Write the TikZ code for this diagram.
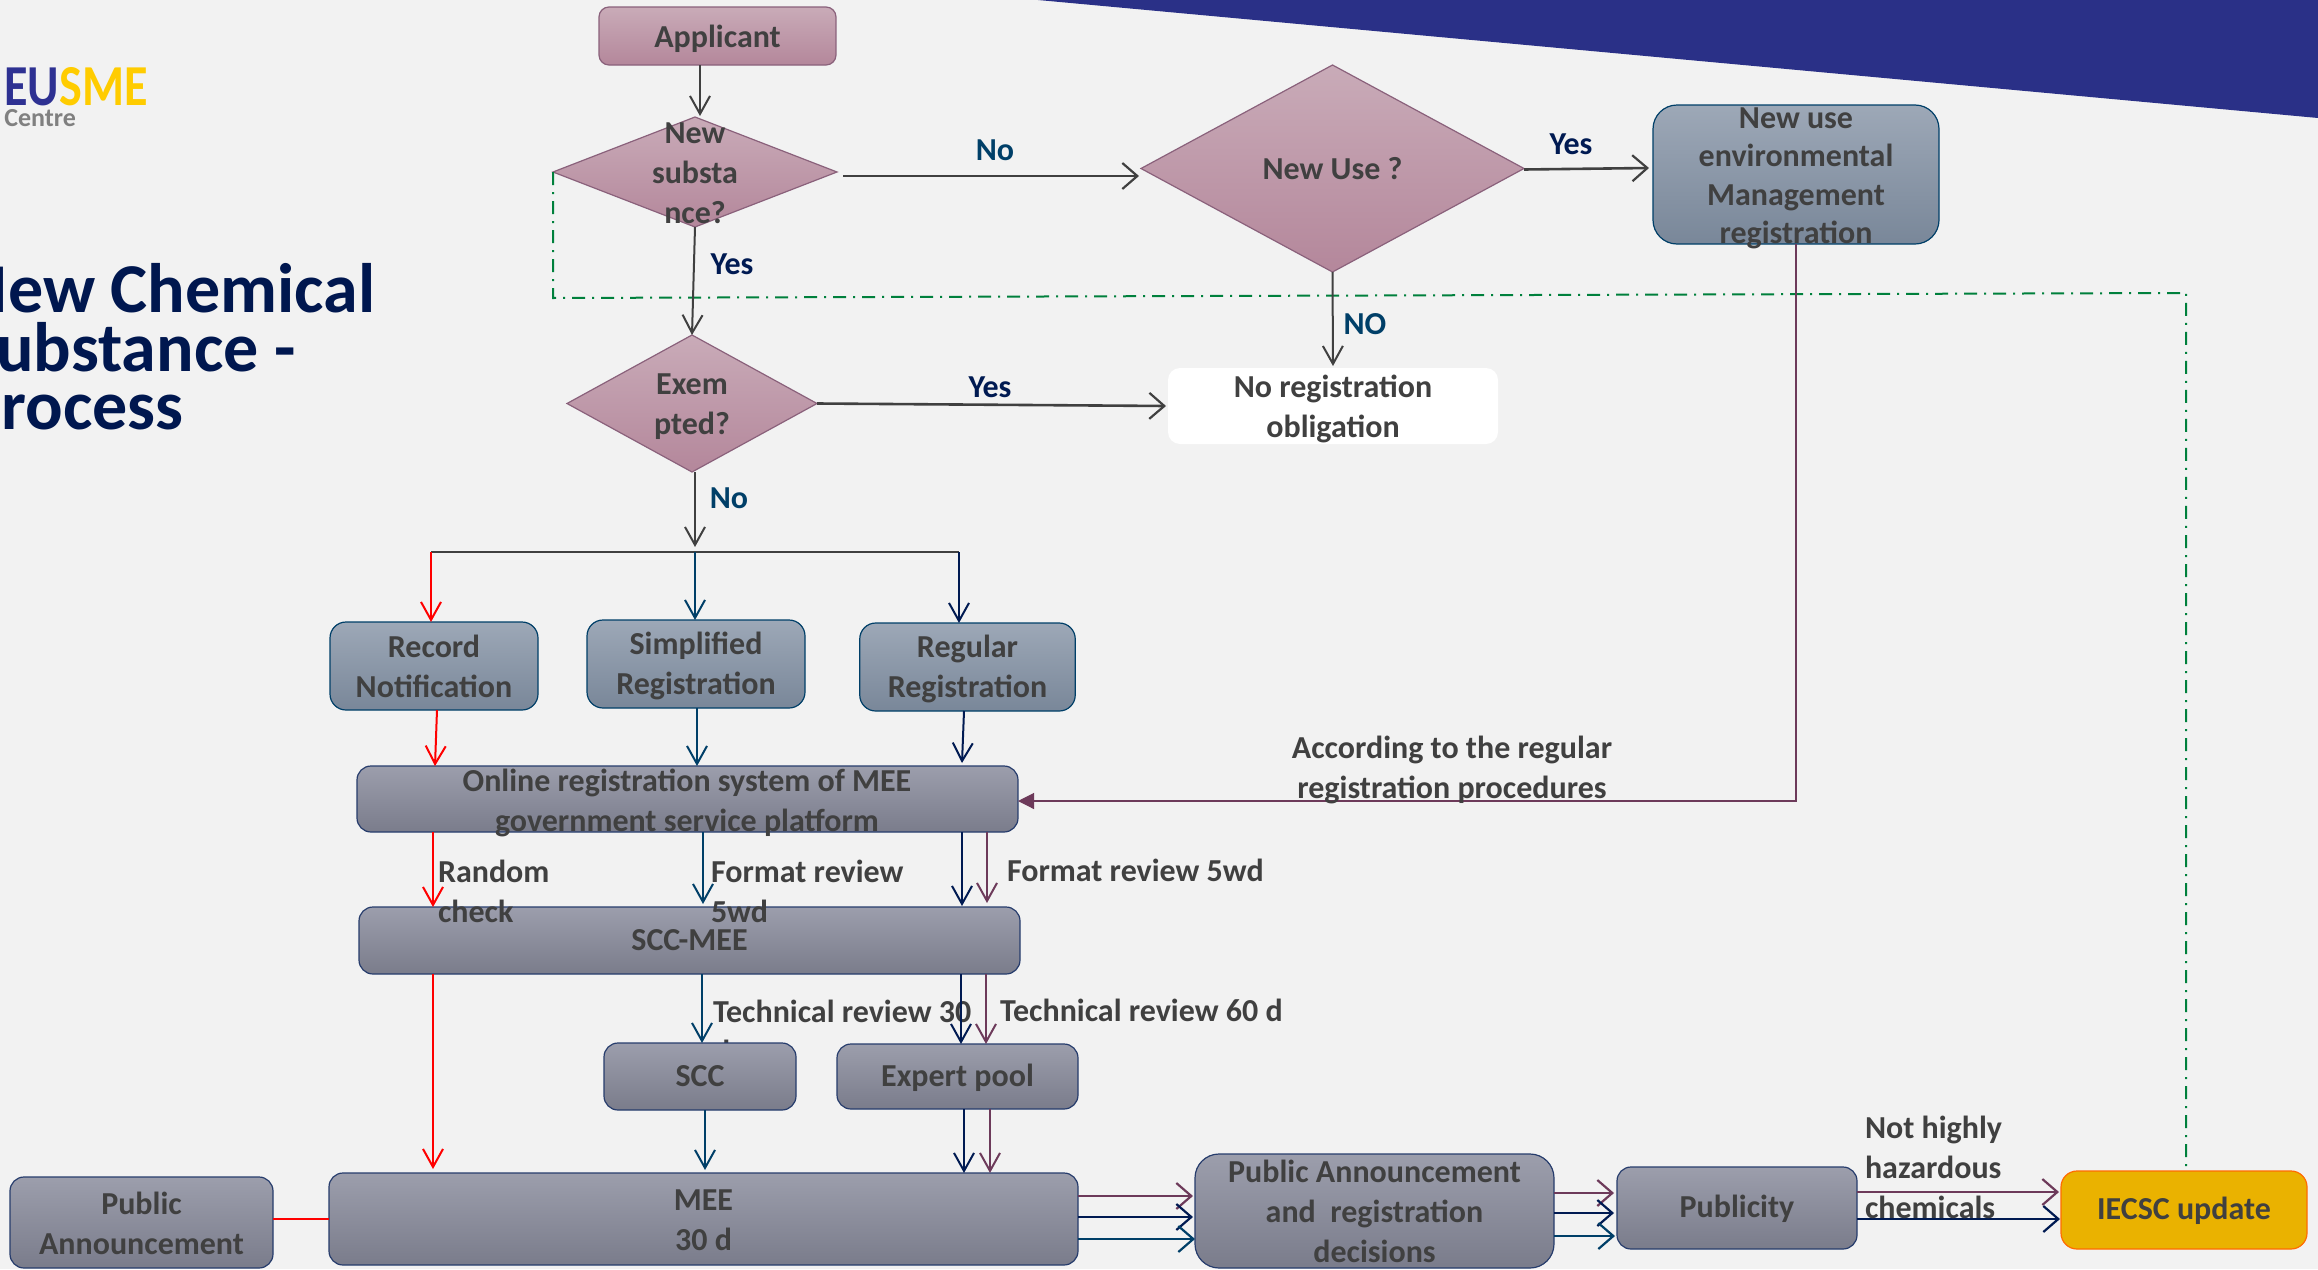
\documentclass[tikz,border=0pt]{standalone}
\usepackage{fontspec}
\setmainfont{Carlito}
\usetikzlibrary{arrows.meta,shapes.geometric,calc}
\definecolor{pagebg}{HTML}{F2F2F2}
\definecolor{banner}{HTML}{2A3087}
\definecolor{txt}{HTML}{404040}
\definecolor{navy}{HTML}{001A52}
\definecolor{teal}{HTML}{003F68}
\definecolor{plum}{HTML}{6D3A5A}
\definecolor{dark}{HTML}{404040}
\definecolor{gline}{HTML}{00803C}
\definecolor{HTMLdiaT}{HTML}{C9ABB8}
\definecolor{HTMLdiaB}{HTML}{B4879B}
\definecolor{HTMLblT}{HTML}{9DA8B7}
\definecolor{HTMLblB}{HTML}{798799}
\definecolor{HTMLgrT}{HTML}{9C9EAC}
\definecolor{HTMLgrB}{HTML}{7A7C8B}
\definecolor{HTMLtitle}{HTML}{00174F}
\definecolor{HTMLiecsc}{HTML}{EAB200}
\definecolor{logoblue}{HTML}{2E3192}
\definecolor{logoyel}{HTML}{FFCC00}
\definecolor{logogray}{HTML}{808080}
\tikzset{
  wh/.style 2 args={minimum width=#1*0.5pt,minimum height=#2*0.5pt,inner sep=0pt,outer sep=0pt},
  dia/.style={diamond,draw=plum!80!white,line width=0.6pt,top color=HTMLdiaT,bottom color=HTMLdiaB},
  pinkbox/.style={rectangle,rounded corners=5pt,draw=plum!80!white,line width=0.6pt,top color=HTMLdiaT,bottom color=HTMLdiaB},
  bluebox/.style={rectangle,rounded corners=8pt,draw=teal,line width=0.6pt,top color=HTMLblT,bottom color=HTMLblB},
  graybox/.style={rectangle,rounded corners=7pt,draw=navy!85!white,line width=0.6pt,top color=HTMLgrT,bottom color=HTMLgrB},
  lbl/.style={inner sep=0pt,outer sep=0pt,text=txt,font=\fontsize{16}{20}\selectfont\bfseries,align=center},
  lleft/.style={lbl,align=left,anchor=west},
  ans/.style={inner sep=0pt,font=\fontsize{16}{20}\selectfont\bfseries},
  title/.style={inner sep=0pt,anchor=base east,text=HTMLtitle,font=\fontsize{35}{40}\selectfont\bfseries},
  con/.style={line width=1pt,-{Straight Barb[length=9pt,width=10pt,line width=1pt]}},
  conw/.style={line width=1.3pt,-{Straight Barb[length=7.5pt,width=13pt,line width=1.1pt]}},
}
\begin{document}
\begin{tikzpicture}[x=0.5pt,y=-0.5pt]
\useasboundingbox (0,0) rectangle (2318,1269);
\clip (0,0) rectangle (2318,1269);
\fill[pagebg] (0,0) rectangle (2318,1269);
\fill[banner] (1038,0) -- (2318,118) -- (2318,0) -- cycle;

% logo and title
\node[inner sep=0pt,anchor=base west,font=\fontsize{29}{30}\selectfont\bfseries] (logo) at (4,105) {\scalebox{0.83}[1]{\textcolor{logoblue}{EU}\textcolor{logoyel}{SME}}};
\node[inner sep=0pt,anchor=base west,text=logogray,font=\fontsize{13}{14}\selectfont\bfseries] (centre) at (4,126) {Centre};
\node[title] (t1) at (376,312) {New Chemical};
\node[title] (t2) at (296,371) {Substance -};
\node[title] (t3) at (184,429) {Process};

% label hidden behind the SCC box
\node[lleft] (tech30) at (713,1031) {Technical review 30\\d};

% boxes
\node[pinkbox,wh={237}{58}] (app) at (717.5,36) {};
\node[dia,wh={284}{110}] (d1) at (695,172) {};
\node[dia,wh={250}{137}] (d2) at (692,403.5) {};
\node[dia,wh={383}{207}] (d3) at (1332.5,168.5) {};
\node[bluebox,rounded corners=12pt,wh={286}{139}] (newuse) at (1796,174.5) {};
\node[rectangle,rounded corners=6pt,fill=white,wh={330}{76}] (noreg) at (1333,406) {};
\node[bluebox,wh={208}{88}] (rec) at (434,666) {};
\node[bluebox,wh={218}{88}] (sim) at (696,664) {};
\node[bluebox,wh={215.5}{88}] (reg) at (967.5,667) {};
\node[graybox,wh={661}{66}] (onl) at (687.5,799) {};
\node[graybox,wh={661}{67}] (sccmee) at (689.5,940.5) {};
\node[graybox,wh={192}{67}] (scc) at (700,1076.5) {};
\node[graybox,wh={241}{65}] (expp) at (957.5,1076.5) {};
\node[graybox,wh={749}{92}] (mee) at (703.5,1219) {};
\node[graybox,rounded corners=12pt,wh={359}{114}] (pa) at (1374.5,1211) {};
\node[graybox,wh={240}{82}] (pub) at (1737,1208) {};
\node[rectangle,rounded corners=8pt,draw=orange!85!red,line width=0.6pt,fill=HTMLiecsc,wh={246}{78}] (iecsc) at (2184,1210) {};
\node[graybox,wh={263}{91}] (pa2) at (141.5,1222.5) {};

% helper coordinates
\coordinate (j) at (695,552);
\coordinate (jl) at (431,552);
\coordinate (jr) at (959,552);
\coordinate (gl) at (553,298);
\coordinate (gr) at (2186,293);
\foreach \v in {433,435,437,700,703,705,697,702,962,964,961,986,987,990}{\coordinate (x\v) at (\v,0);}

% dash-dot return line
\draw[gline,line width=1pt,dash pattern=on 6.5pt off 3.5pt on 1pt off 3.5pt] (d1.west) -- (gl) -- (gr) -- (gr |- iecsc.north);

% upper connectors
\draw[con,dark] (app.south -| x700) -- ([yshift=0.5pt]x700 |- d1.north);
\draw[con,dark] (d1.south) -- (d2.north);
\draw[conw,dark] ([shift={(6,4)}]d1.east) -- ([shift={(-2,7.5)}]d3.west);
\draw[conw,dark] ([shift={(0,1)}]d3.east) -- ([shift={(-4,-6.5)}]newuse.west);
\draw[con,dark] (d3.south) -- ([yshift=1pt]noreg.north);
\draw[conw,dark] (d2.east) -- ([xshift=-1pt]noreg.west);
\draw[con,dark] (d2.south -| j) -- ([yshift=2.5pt]j);
\draw[dark,line width=1.4pt] (jl) -- (jr);
\draw[con,red] (jl) -- (jl |- rec.north);
\draw[con,teal] (j) -- (j |- sim.north);
\draw[con,navy] (jr) -- (jr |- reg.north);

% into the online system
\draw[con,red] (rec.south -| x437) -- (onl.north -| x435);
\draw[con,teal] (sim.south -| x697) -- (onl.north -| x697);
\draw[con,navy] (reg.south -| x964) -- ([yshift=1.5pt]onl.north -| x962);
\draw[plum,line width=0.6pt,-{Triangle[length=8pt,width=8pt]}] (newuse.south) |- ([yshift=-1pt]onl.east);

% online to SCC-MEE
\draw[con,red] (onl.south -| x433) -- (sccmee.north -| x433);
\draw[con,teal] (onl.south -| x703) -- ([yshift=1.5pt]sccmee.north -| x703);
\draw[con,navy] (onl.south -| x962) -- ([yshift=0.5pt]sccmee.north -| x962);
\draw[con,plum] (onl.south -| x987) -- ([yshift=2pt]sccmee.north -| x987);

% SCC-MEE to the next row
\draw[con,red] (sccmee.south -| x433) -- ([yshift=2pt]mee.north -| x433);
\draw[con,teal] (sccmee.south -| x702) -- (scc.north -| x702);
\draw[con,navy] (sccmee.south -| x961) -- (expp.north -| x961);
\draw[con,plum] (sccmee.south -| x986) -- (expp.north -| x986);

% into MEE
\draw[con,teal] (scc.south -| x705) -- ([yshift=1.5pt]mee.north -| x705);
\draw[con,navy] (expp.south -| x964) -- (mee.north -| x964);
\draw[con,plum] (expp.south -| x990) -- (mee.north -| x990);
\draw[red,line width=0.7pt] (pa2.east |- mee.west) -- (mee.west);

% MEE to Public Announcement
\draw[conw,plum] ([shift={(0,-23)}]mee.east) -- ([shift={(-2,-15)}]pa.west);
\draw[conw,navy] ([shift={(0,-2)}]mee.east) -- ([shift={(-2,6)}]pa.west);
\draw[conw,teal] ([shift={(0,20)}]mee.east) -- ([shift={(0,28)}]pa.west);
% Public Announcement to Publicity
\draw[conw,plum] ([shift={(0,-18)}]pa.east) -- ([shift={(-3,-15)}]pub.west);
\draw[conw,navy] ([shift={(0,2)}]pa.east) -- ([shift={(-3,5)}]pub.west);
\draw[conw,teal] ([shift={(0,25)}]pa.east) -- ([shift={(-2,28)}]pub.west);
% Publicity to IECSC
\draw[conw,plum] ([shift={(0,-16)}]pub.east) -- ([shift={(-2,-18)}]iecsc.west);
\draw[conw,navy] ([shift={(0,11)}]pub.east) -- ([shift={(-1,9)}]iecsc.west);

% texts in boxes
\node[lbl] (tapp) at ([shift={(0,3)}]app) {Applicant};
\node[lbl] (td1) at (695,173) {New\\substa\\nce?};
\node[lbl] (td2) at (692,407) {Exem\\pted?};
\node[lbl] (td3) at (d3) {New Use ?};
\node[lbl,font=\fontsize{16}{19.2}\selectfont\bfseries] (tnu) at ([shift={(0,4)}]newuse) {New use\\environmental\\Management\\registration};
\node[lbl] (tnr) at ([shift={(0,3)}]noreg) {No registration\\obligation};
\node[lbl] (trec) at (rec) {Record\\Notification};
\node[lbl] (tsim) at ([shift={(0,2)}]sim) {Simplified\\Registration};
\node[lbl] (treg) at ([shift={(0,2)}]reg) {Regular\\Registration};
\node[lbl] (tonl) at (687,803) {Online registration system of MEE\\government service platform};
\node[lbl] (tsm) at (sccmee) {SCC-MEE};
\node[lbl] (tscc) at (scc) {SCC};
\node[lbl] (texp) at ([shift={(0,1)}]expp) {Expert pool};
\node[lbl] (tmee) at ([shift={(0,1)}]mee) {MEE\\30 d};
\node[lbl] (tpa) at (pa) {Public Announcement\\and\ \ registration\\decisions};
\node[lbl] (tpub) at ([shift={(0,1)}]pub) {Publicity};
\node[lbl] (tiec) at ([shift={(0,1)}]iecsc) {IECSC update};
\node[lbl] (tpa2) at ([shift={(0,1)}]pa2) {Public\\Announcement};

% labels on connectors
\node[ans,text=teal] (lno1) at (995,150) {No};
\node[ans,text=navy] (ly1) at (1571,144) {Yes};
\node[ans,text=teal] (lno2) at (1365,324) {NO};
\node[ans,text=navy] (ly2) at (732,264) {Yes};
\node[ans,text=navy] (ly3) at (990,387) {Yes};
\node[ans,text=teal] (lno3) at (729,498) {No};
\node[lbl] (lacc) at (1452,770) {According to the regular\\registration procedures};
\node[lleft] (lrand) at (438,891) {Random\\check};
\node[lleft] (lfmt) at (711,891) {Format review\\5wd};
\node[lleft] (lfmt2) at (1007,870) {Format review 5wd};
\node[lleft] (ltech60) at (1000,1010) {Technical review 60 d};
\node[lleft] (lnot) at (1865,1167) {Not highly\\hazardous\\chemicals};
\end{tikzpicture}
\end{document}
